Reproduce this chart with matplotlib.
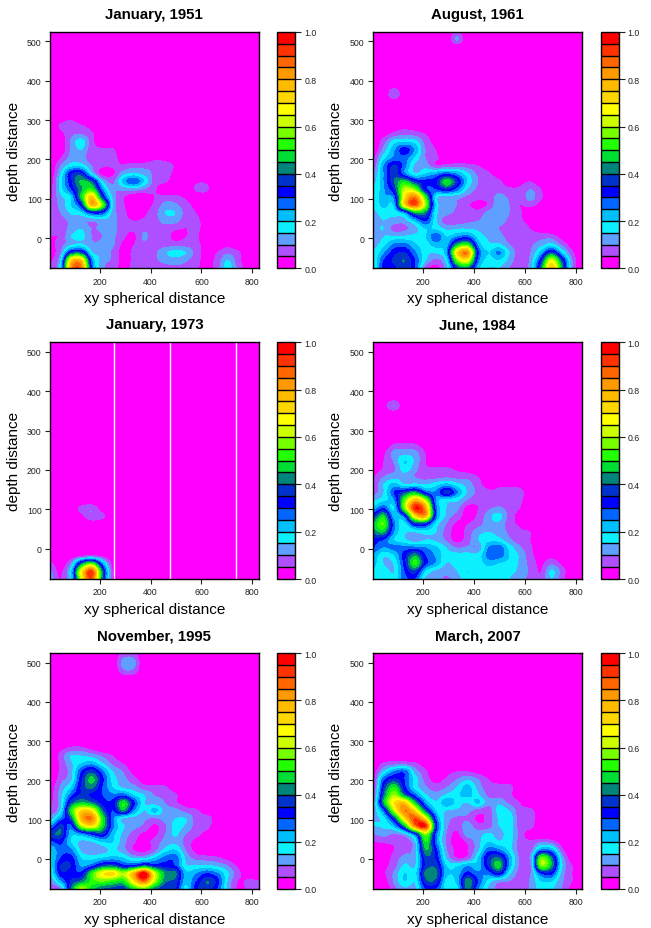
#!/usr/bin/env python
"""Six monthly density panels, xy spherical distance vs depth distance."""
import numpy as np
import matplotlib; matplotlib.use("Agg")
import matplotlib.pyplot as plt
from matplotlib.colors import BoundaryNorm, ListedColormap

plt.rcParams["font.family"] = ["Liberation Sans", "DejaVu Sans"]

W, H = 651, 929
# grid nodes; rows run bottom to top from ynodes[0], values in hundredths, trailing zeros left out
xnodes = [5, 46, 87, 128, 169, 210, 251, 292, 333, 374, 415, 456, 497, 538, 579, 620, 661, 702, 743, 784, 825]
ynodes = list(range(-77, 524, 20))

jan_1951 = [
    [5, 20, 82, 86, 30, 12, 7, 4, 6, 7, 7, 8, 9, 8, 6, 3, 8, 18, 9, 2],
    [4, 16, 72, 75, 26, 13, 9, 3, 6, 8, 9, 12, 13, 11, 7, 3, 7, 15, 7, 1],
    [3, 10, 36, 38, 16, 14, 9, 3, 6, 7, 9, 14, 17, 15, 8, 3, 5, 9, 6, 1],
    [3, 8, 14, 16, 11, 11, 11, 4, 5, 9, 7, 8, 8, 8, 7, 2, 2, 3, 1],
    [5, 6, 15, 17, 10, 10, 11, 6, 4, 11, 7, 8, 3, 5, 6],
    [6, 7, 12, 15, 10, 11, 12, 7, 6, 9, 7, 8, 6, 5, 7, 1],
    [7, 8, 11, 11, 11, 13, 12, 7, 5, 6, 8, 12, 12, 7, 7, 1],
    [6, 10, 16, 19, 32, 30, 13, 7, 2, 4, 8, 15, 15, 8, 5],
    [5, 12, 20, 34, 78, 58, 16, 6, 1, 3, 6, 12, 11, 7, 3],
    [4, 14, 20, 48, 75, 38, 14, 6, 1, 2, 5, 7, 7, 4, 2, 2],
    [3, 17, 30, 44, 52, 26, 11, 12, 13, 10, 6, 1, 0, 0, 6, 6],
    [2, 18, 34, 46, 40, 16, 9, 22, 30, 20, 8, 6, 2, 0, 4, 4],
    [1, 15, 34, 36, 16, 3, 4, 13, 16, 13, 9, 8, 3],
    [0, 10, 18, 18, 10, 6, 6, 6, 8, 8, 9, 9, 4],
    [0, 5, 12, 12, 7, 6, 7, 2, 0, 0, 3, 2],
    [0, 1, 11, 15, 7, 6, 6],
    [0, 1, 11, 18, 7, 1],
    [0, 3, 9, 10, 6, 1],
    [0, 6, 8, 6, 3],
    [0, 2, 4, 1],
]
aug_1961 = [
    [15, 32, 34, 38, 30, 8, 3, 13, 38, 43, 22, 15, 15, 10, 6, 13, 42, 76, 45, 10],
    [15, 30, 36, 40, 30, 16, 9, 18, 58, 68, 28, 18, 20, 13, 7, 12, 34, 65, 38, 10, 1],
    [15, 24, 33, 35, 26, 17, 16, 25, 72, 84, 32, 20, 26, 15, 7, 10, 22, 38, 20, 6],
    [13, 18, 26, 27, 21, 18, 23, 22, 45, 52, 24, 16, 16, 10, 7, 9, 13, 17, 9, 2],
    [12, 15, 16, 16, 17, 20, 29, 20, 25, 28, 18, 14, 12, 8, 7, 7, 8, 8, 3],
    [13, 15, 8, 9, 13, 20, 19, 14, 15, 15, 14, 12, 10, 8, 7, 5, 2],
    [13, 15, 13, 13, 22, 31, 16, 7, 7, 9, 10, 13, 12, 9, 6, 3],
    [14, 17, 17, 25, 45, 42, 17, 12, 9, 9, 7, 12, 13, 10, 6],
    [15, 22, 22, 72, 90, 60, 19, 13, 10, 6, 3, 6, 14, 10, 5, 7, 3],
    [15, 24, 27, 70, 85, 52, 18, 13, 12, 9, 7, 7, 12, 9, 7, 12, 6],
    [15, 24, 36, 62, 58, 32, 30, 36, 28, 15, 9, 8, 8, 6, 6, 10, 5],
    [13, 25, 40, 48, 36, 32, 34, 50, 36, 20, 10, 8, 6, 2, 3, 5, 1],
    [10, 25, 38, 26, 16, 20, 24, 28, 24, 16, 9, 6, 2],
    [6, 25, 36, 27, 14, 13, 6, 7, 8, 7, 5, 2],
    [4, 18, 26, 28, 19, 10, 6, 2],
    [0, 12, 24, 33, 24, 10, 5],
    [0, 8, 18, 20, 18, 8, 3],
    [0, 3, 7, 9, 8, 5, 1],
    [0, 0, 2, 3, 2],
]
jan_1973 = [
    [12, 5, 18, 66, 90, 41, 5],
    [11, 4, 19, 68, 92, 42, 5],
    [6, 2, 11, 40, 54, 25, 3],
    [1, 0, 1, 4, 6, 3],
    [],
    [],
    [],
    [0, 0, 0, 0, 2, 1],
    [0, 0, 0, 4, 9, 7],
    [0, 0, 0, 7, 9, 2],
]
jun_1984 = [
    [17, 20, 17, 28, 30, 14, 13, 9, 13, 17, 16, 16, 16, 15, 13, 8, 6, 15, 7],
    [19, 18, 15, 30, 38, 20, 14, 12, 15, 20, 17, 17, 17, 16, 14, 9, 5, 16, 8],
    [22, 15, 16, 33, 52, 32, 24, 15, 17, 17, 17, 22, 20, 18, 14, 8, 4, 9, 4],
    [24, 16, 20, 33, 44, 30, 24, 17, 17, 17, 17, 27, 28, 20, 14, 7, 2, 3],
    [30, 25, 27, 27, 27, 25, 21, 15, 10, 11, 11, 25, 28, 18, 11, 6],
    [33, 30, 20, 16, 12, 15, 14, 9, 3, 8, 15, 18, 17, 11, 7, 5],
    [42, 46, 25, 16, 16, 18, 15, 8, 3, 7, 13, 15, 13, 9, 6, 5],
    [45, 55, 27, 18, 36, 36, 18, 10, 4, 5, 8, 13, 14, 7, 4],
    [35, 48, 22, 30, 72, 80, 28, 14, 8, 3, 6, 13, 17, 8, 3],
    [22, 30, 20, 58, 95, 82, 28, 15, 12, 3, 5, 9, 11, 8, 5],
    [14, 19, 25, 55, 78, 62, 24, 18, 16, 10, 6, 6, 7, 7, 6, 1],
    [8, 15, 30, 38, 45, 30, 26, 38, 26, 14, 9, 6, 6, 7, 7, 1],
    [6, 15, 22, 16, 17, 15, 18, 22, 17, 13, 7, 3, 4, 4, 3],
    [5, 10, 13, 13, 10, 8, 8, 9, 8, 8, 5, 1],
    [0, 6, 9, 18, 12, 6, 6, 6, 4, 2],
    [0, 5, 11, 20, 14, 5, 1],
    [0, 4, 12, 13, 12, 5],
    [0, 1, 6, 7, 6, 2],
]
nov_1995 = [
    [7, 10, 40, 62, 48, 40, 38, 36, 50, 56, 42, 36, 36, 18, 34, 38, 30, 14, 4, 6, 8],
    [10, 24, 36, 42, 52, 56, 52, 50, 70, 88, 62, 42, 38, 22, 30, 40, 33, 15, 5, 6, 6],
    [15, 33, 33, 32, 52, 68, 72, 60, 78, 100, 65, 44, 42, 22, 25, 30, 26, 16, 7, 1],
    [17, 35, 35, 24, 28, 38, 40, 32, 32, 40, 34, 33, 30, 16, 16, 16, 14, 10, 4],
    [18, 30, 32, 20, 18, 20, 22, 20, 14, 14, 20, 27, 28, 14, 8, 7, 6, 3],
    [20, 28, 26, 14, 11, 13, 16, 12, 5, 3, 8, 17, 20, 10, 3, 1],
    [28, 32, 20, 14, 15, 20, 20, 12, 6, 3, 7, 12, 14, 8, 3],
    [38, 40, 22, 25, 32, 36, 22, 14, 8, 4, 4, 10, 16, 10, 7, 3],
    [25, 38, 28, 60, 70, 50, 27, 16, 12, 9, 4, 9, 17, 14, 8, 7, 1],
    [12, 26, 40, 78, 85, 52, 27, 15, 13, 11, 10, 12, 15, 15, 8, 8, 2],
    [6, 16, 50, 72, 70, 42, 30, 44, 26, 15, 22, 13, 12, 8, 6, 1],
    [4, 14, 38, 46, 42, 33, 32, 50, 32, 16, 13, 10, 6, 2],
    [3, 13, 28, 36, 34, 30, 26, 28, 20, 15, 10, 9, 6],
    [2, 11, 20, 36, 42, 30, 20, 14, 12, 7, 7, 6, 1],
    [0, 8, 14, 34, 47, 32, 18, 12, 7, 2],
    [0, 6, 13, 30, 38, 27, 15, 10, 3],
    [0, 6, 14, 20, 23, 16, 9, 5],
    [0, 7, 15, 15, 13, 9, 5, 1],
    [0, 3, 6, 6, 3],
]
mar_2007 = [
    [0, 0, 8, 14, 14, 30, 30, 17, 18, 42, 26, 14, 8, 6, 6, 11, 17, 16, 10, 3],
    [0, 2, 11, 20, 16, 38, 38, 18, 22, 44, 30, 18, 12, 10, 7, 11, 20, 20, 11, 5],
    [0, 4, 11, 20, 18, 42, 42, 22, 22, 32, 26, 27, 35, 17, 8, 10, 30, 32, 13, 5],
    [0, 3, 8, 16, 15, 36, 38, 20, 19, 24, 22, 36, 48, 24, 9, 10, 58, 45, 16, 5],
    [0, 2, 7, 12, 13, 38, 34, 14, 5, 7, 20, 36, 40, 24, 9, 12, 55, 42, 14, 1],
    [0, 1, 5, 8, 14, 45, 32, 11, 4, 5, 14, 28, 26, 18, 8, 8, 26, 24, 7],
    [5, 6, 6, 7, 15, 50, 27, 9, 3, 6, 13, 20, 16, 17, 8, 6, 10, 8, 2],
    [10, 12, 10, 14, 30, 60, 28, 10, 4, 13, 13, 16, 13, 17, 8, 2],
    [15, 16, 22, 45, 85, 95, 35, 12, 7, 13, 7, 8, 15, 17, 8, 7],
    [14, 18, 38, 72, 90, 70, 28, 13, 9, 9, 4, 7, 16, 18, 7, 8],
    [12, 28, 62, 85, 72, 40, 20, 15, 14, 12, 8, 7, 17, 15, 7, 7],
    [9, 45, 70, 75, 48, 25, 16, 24, 18, 15, 21, 12, 14, 9, 5],
    [6, 40, 60, 42, 28, 16, 12, 16, 19, 22, 16, 9, 8, 6, 2],
    [4, 35, 50, 32, 18, 11, 7, 10, 15, 22, 13, 7, 7, 7],
    [3, 28, 36, 30, 18, 8, 3, 6, 10, 14, 10, 5, 2, 1],
    [2, 15, 25, 28, 13, 6, 0, 3, 5, 5, 3, 1],
    [0, 6, 8, 8, 6, 2],
]
# isolated small patches high up: (depth node, xy node, hundredths)
spots_1961 = [(343, 87, 1), (363, 87, 10), (383, 87, 4), (483, 333, 1), (503, 333, 11), (523, 333, 6)]
spots_1984 = [(343, 87, 2), (363, 46, 3), (363, 87, 10), (383, 87, 2)]
spots_1995 = [(463, 292, 3), (463, 333, 3), (483, 292, 10), (483, 333, 10), (503, 292, 12), (503, 333, 12),
              (523, 292, 7), (523, 333, 7)]

titles = ["January, 1951", "August, 1961", "January, 1973", "June, 1984", "November, 1995", "March, 2007"]
panels = [jan_1951, aug_1961, jan_1973, jun_1984, nov_1995, mar_2007]
panel_spots = [[], spots_1961, [], spots_1984, spots_1995, []]
jan_1973_gaps = [255, 475, 737]  # white stripes in the 1973 panel

levels = np.arange(0, 1.0001, 0.05)
band_colors = ["#FF00FF", "#AE50FF", "#5F9FFF", "#0CF0FF", "#00BFFF", "#0066FF", "#0000FF", "#0033CC",
               "#00857A", "#00DD33", "#22FF00", "#77FF00", "#CCFF00", "#FFFF00", "#FFD700", "#FFBB00",
               "#FF9900", "#FF6600", "#FF3300", "#FF0000"]
cmap = ListedColormap(band_colors)
cmap.set_under("#FF00FF"); cmap.set_over("#FF0000")
norm = BoundaryNorm(levels, cmap.N)

# pixel boxes (left, right, cbar left, cbar right) and (top, bottom)
col_x = [(50, 258.7, 277, 295.3), (372.7, 582.3, 600.7, 618.7)]
row_y = [(33, 269.3), (343.3, 580), (654.3, 890)]


def box(x0, y0, x1, y1):
    return [x0 / W, 1 - y1 / H, (x1 - x0) / W, (y1 - y0) / H]


def make_grid(rows, spots):
    grid = np.zeros((len(ynodes), len(xnodes)))
    for k, r in enumerate(rows):
        grid[k, :len(r)] = r
    for yv, xv, v in spots:
        grid[ynodes.index(yv), xnodes.index(xv)] = v
    return grid / 100.0


fig = plt.figure(figsize=(W / 100, H / 100), dpi=100)
for i, (title, rows) in enumerate(zip(titles, panels)):
    xa, xb, ca, cb = col_x[i % 2]
    ya, yb = row_y[i // 2]
    ax = fig.add_axes(box(xa, ya, xb, yb))
    dx, dy = xnodes[1] - xnodes[0], ynodes[1] - ynodes[0]
    im = ax.imshow(make_grid(rows, panel_spots[i]), origin="lower", aspect="auto", cmap=cmap, norm=norm,
                   interpolation="catrom", interpolation_stage="data",
                   extent=[xnodes[0] - dx / 2, xnodes[-1] + dx / 2, ynodes[0] - dy / 2, ynodes[-1] + dy / 2])
    ax.set_xlim(4.6, 825); ax.set_ylim(-77, 524)
    if title == "January, 1973":
        for g in jan_1973_gaps:
            ax.axvline(g, color="white", lw=1.0)
    ax.set_xticks([200, 400, 600, 800]); ax.set_yticks([0, 100, 200, 300, 400, 500])
    ax.tick_params(labelsize=6.3, length=3.5, width=0.8, pad=2.5, colors="#222222")
    for s in ax.spines.values():
        s.set_linewidth(1.0)
    ax.set_xlabel("xy spherical distance", fontsize=11, labelpad=4)
    ax.set_ylabel("depth distance", fontsize=11)
    ax.yaxis.set_label_coords(-0.14, 0.5)
    ax.set_title(title, fontsize=10.8, fontweight="bold", pad=10)

    cax = fig.add_axes(box(ca, ya, cb, yb))
    cb_ = fig.colorbar(im, cax=cax, ticks=[0, 0.2, 0.4, 0.6, 0.8, 1.0], drawedges=True, spacing="uniform")
    cb_.ax.set_yticklabels(["0.0", "0.2", "0.4", "0.6", "0.8", "1.0"])
    cb_.ax.minorticks_off()
    cb_.ax.tick_params(labelsize=6.3, length=4, width=0.8, pad=2.5, colors="#222222")
    cb_.dividers.set_linewidth(1.0); cb_.outline.set_linewidth(1.0)

fig.savefig("out.png", dpi=100)
